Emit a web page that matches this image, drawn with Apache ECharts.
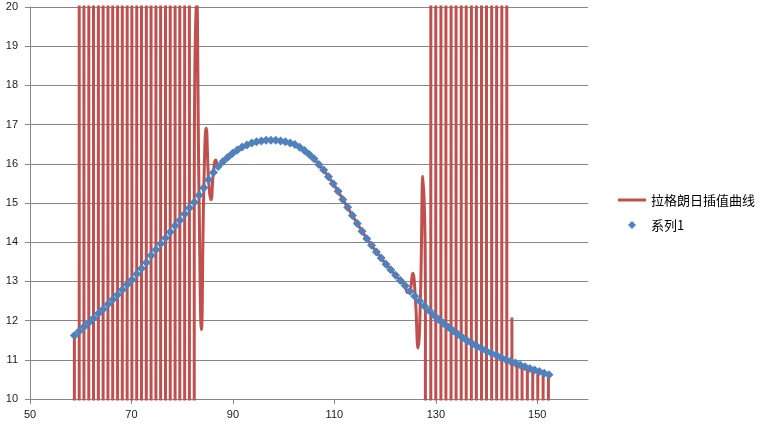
<!DOCTYPE html>
<html>
<head>
<meta charset="utf-8">
<script src="https://cdn.jsdelivr.net/npm/echarts@6/dist/echarts.min.js"></script>
<style>html,body{margin:0;padding:0;background:#fff}#c{width:761px;height:426px}</style>
</head>
<body>
<div id="c"></div>
<script>
// 系列1 data points
const nodeX = [58.75,59.70,60.64,61.59,62.53,63.48,64.42,65.37,66.31,67.26,68.20,69.15,70.09,71.04,71.98,72.93,73.87,74.82,75.76,76.71,77.65,78.60,79.54,80.49,81.43,82.38,83.32,84.27,85.21,86.16,87.10,88.05,88.99,89.94,90.88,91.83,92.77,93.72,94.66,95.61,96.55,97.50,98.44,99.39,100.33,101.28,102.22,103.17,104.11,105.06,106.00,106.95,107.89,108.84,109.78,110.73,111.67,112.62,113.56,114.51,115.45,116.40,117.34,118.29,119.23,120.18,121.12,122.07,123.01,123.96,124.90,125.85,126.79,127.74,128.68,129.63,130.57,131.52,132.46,133.41,134.35,135.30,136.24,137.19,138.13,139.08,140.02,140.97,141.91,142.86,143.80,144.75,145.69,146.64,147.58,148.53,149.47,150.42,151.36,152.31];
const nodeY = [11.62,11.73,11.84,11.95,12.06,12.18,12.29,12.42,12.54,12.66,12.79,12.92,13.04,13.19,13.33,13.48,13.66,13.81,13.96,14.11,14.26,14.42,14.56,14.72,14.87,15.02,15.20,15.39,15.59,15.78,15.93,16.06,16.17,16.27,16.35,16.43,16.48,16.53,16.56,16.58,16.60,16.60,16.60,16.58,16.56,16.53,16.49,16.42,16.34,16.24,16.13,15.98,15.84,15.67,15.49,15.30,15.09,14.89,14.68,14.48,14.28,14.09,13.92,13.75,13.60,13.44,13.30,13.16,13.02,12.89,12.75,12.62,12.50,12.37,12.26,12.14,12.03,11.93,11.83,11.74,11.65,11.56,11.48,11.41,11.34,11.28,11.22,11.17,11.12,11.06,11.01,10.96,10.92,10.87,10.82,10.78,10.74,10.70,10.66,10.62];

// 拉格朗日插值曲线 samples (±1000 = far off the visible range)
const lagX = [58.75,59.22,60.17,61.11,62.06,63.00,63.95,64.89,65.84,66.78,67.73,68.67,69.62,70.56,71.51,72.45,73.40,74.34,75.29,76.23,77.18,78.12,79.07,80.01,80.96,81.90,
  82.38,82.85,83.32,83.79,84.27,84.74,85.21,85.68,86.16,86.63,87.10,
  88.05,88.99,89.94,90.88,91.83,92.77,93.72,94.66,95.61,96.55,97.50,98.44,99.39,100.33,101.28,102.22,103.17,104.11,105.06,106.00,106.95,107.89,108.84,109.78,110.73,111.67,112.62,113.56,114.51,115.45,116.40,117.34,118.29,119.23,120.18,121.12,122.07,
  122.54,123.01,123.49,123.96,124.43,124.90,125.45,125.95,126.50,126.95,127.45,127.95,
  128.5,129.5,130.5,131.5,132.5,133.5,134.5,135.5,136.5,137.5,138.5,139.5,140.5,141.5,142.5,143.5,144.5,
  145.0,145.5,146.0,146.5,147.0,147.55,148.05,148.6,149.1,149.6,150.1,150.6,151.15,151.7,152.2];
const lagY = [11.62,-1000,1000,-1000,1000,-1000,1000,-1000,1000,-1000,1000,-1000,1000,-1000,1000,-1000,1000,-1000,1000,-1000,1000,-1000,1000,-1000,1000,-1000,
  15.02,20.4,15.20,11.77,15.39,16.91,15.59,15.08,15.78,16.10,15.93,
  16.06,16.17,16.27,16.35,16.43,16.48,16.53,16.56,16.58,16.60,16.60,16.60,16.58,16.56,16.53,16.49,16.42,16.34,16.24,16.13,15.98,15.84,15.67,15.49,15.30,15.09,14.89,14.68,14.48,14.28,14.09,13.92,13.75,13.60,13.44,13.30,13.16,
  13.09,13.02,12.96,12.89,12.72,12.75,13.21,12.61,11.30,12.48,15.68,12.35,
  -1000,1000,-1000,1000,-1000,1000,-1000,1000,-1000,1000,-1000,1000,-1000,1000,-1000,1000,-1000,
  12.08,-1000,10.90,-1000,10.85,-1000,10.80,-1000,10.75,-1000,10.71,-1000,10.67,-1000,10.62];

const xTickValues = [50,70,90,110,130,150];
const seriesNames = ['拉格朗日插值曲线','系列1'];

const chart = echarts.init(document.getElementById('c'), null, {renderer:'canvas'});
const axisFont = {fontFamily:'Liberation Sans, Arial, sans-serif', fontSize:11, color:'#1a1a1a'};
chart.setOption({
  animation:false,
  backgroundColor:'#fff',
  grid:{left:30, right:173, top:7, bottom:27, containLabel:false},
  xAxis:{
    type:'value', min:50, max:160,
    axisLine:{onZero:false, lineStyle:{color:'#868686', width:1}},
    axisTick:{show:true, customValues:xTickValues, length:5, lineStyle:{color:'#868686'}},
    axisLabel:Object.assign({customValues:xTickValues, margin:10}, axisFont),
    splitLine:{show:false}
  },
  yAxis:{
    type:'value', min:10, max:20, interval:1,
    axisLine:{show:true, lineStyle:{color:'#868686', width:1}},
    axisTick:{show:true, length:5, lineStyle:{color:'#868686'}},
    axisLabel:Object.assign({margin:12}, axisFont),
    splitLine:{show:true, lineStyle:{color:'#868686', width:1}}
  },
  legend:{
    orient:'vertical', left:618, top:193, padding:0, itemGap:11,
    itemWidth:28, itemHeight:8, symbolKeepAspect:true,
    textStyle:{fontFamily:'Noto Sans CJK SC, sans-serif', fontSize:13, color:'#000', lineHeight:14},
    data:[
      {name:seriesNames[0], icon:'path://M0,0H28V3H0Z'},
      {name:seriesNames[1], icon:'path://M4,0L8,4L4,8L0,4Z'}
    ]
  },
  series:[
    {
      name:seriesNames[0], type:'line', symbol:'none', smooth:0.5,
      clip:true, z:2,
      lineStyle:{color:'#C0504D', width:3},
      itemStyle:{color:'#C0504D'},
      data:lagX.map((x,i)=>[x, lagY[i]])
    },
    {
      name:seriesNames[1], type:'scatter', symbol:'diamond', symbolSize:9,
      z:3,
      itemStyle:{color:'#4F81BD', opacity:1},
      data:nodeX.map((x,i)=>[x, nodeY[i]])
    }
  ]
});
</script>
</body>
</html>
